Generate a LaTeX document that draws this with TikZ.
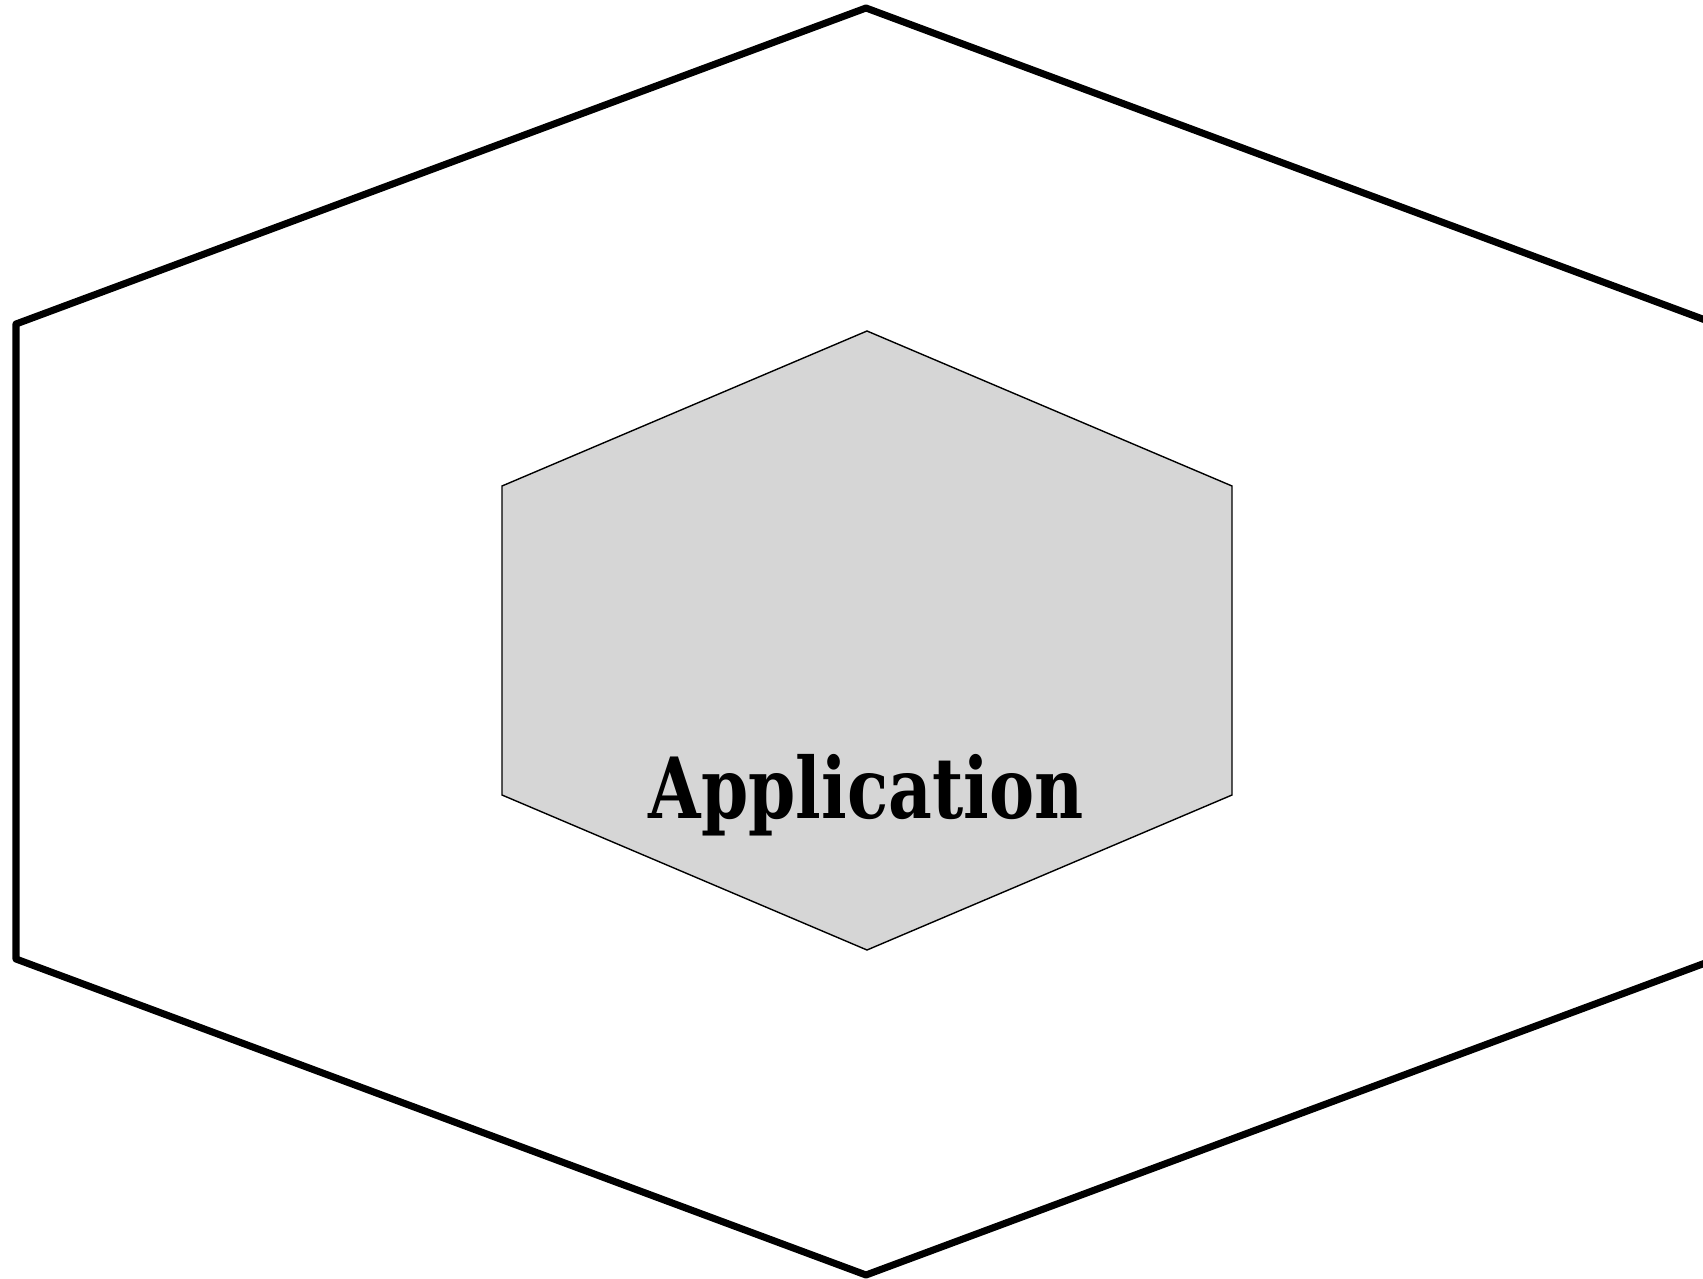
\documentclass[tikz,border=0pt]{standalone}
\usepackage{fontspec}
\newfontfamily\appfont[FakeStretch=0.89]{DejaVu Serif Condensed}
\usepackage{tikz}
\definecolor{appgray}{RGB}{214,214,214}

\begin{document}
\begin{tikzpicture}[x=0.01cm,y=-0.01cm]
  \useasboundingbox (0,0) rectangle (1703,1279);
  \clip (0,0) rectangle (1703,1279);
  % outer layer, runs off the right edge
  \draw[line width=2pt,line join=round] (866,8) -- (16,324) -- (16,959) -- (866,1275) -- (1716,959) -- (1716,324) -- cycle;
  % inner core
  \draw[fill=appgray,line width=0.4pt] (867,331) -- (502,486) -- (502,795) -- (867,950) -- (1232,795) -- (1232,486) -- cycle;
  \node[font=\appfont\bfseries\fontsize{24}{28}\selectfont,anchor=base,inner sep=0pt] (app) at (866,818) {Application};
\end{tikzpicture}
\end{document}
